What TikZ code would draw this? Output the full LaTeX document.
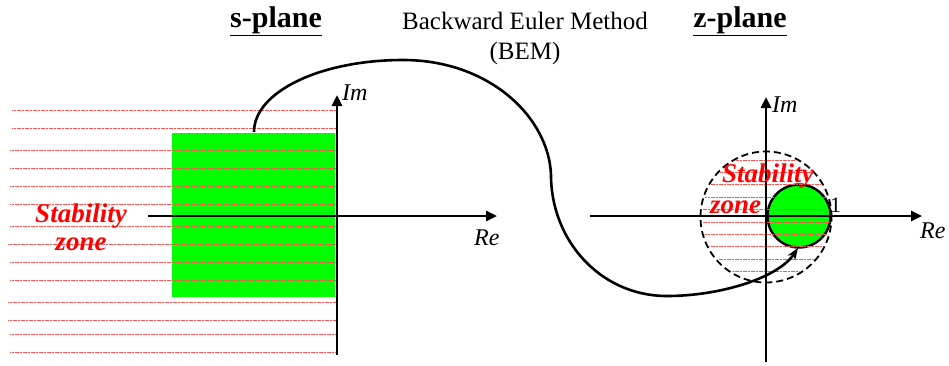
\documentclass[tikz,border=0pt]{standalone}
\usepackage{fontspec}
\setmainfont{Liberation Serif}
\usetikzlibrary{arrows.meta}
\definecolor{brightgreen}{RGB}{0,255,0}
\definecolor{hatchred}{RGB}{255,80,80}
\tikzset{
  axis/.style={line width=2.6pt,-{Triangle[length=11pt,width=10pt]}},
  hatch/.style={hatchred,line width=0.8pt,dash pattern=on 1.2pt off 0.4pt},
  stab/.style={text=red,font=\fontsize{27}{30}\selectfont\bfseries\itshape,inner sep=0pt,anchor=base},
  axlabel/.style={font=\fontsize{24}{28}\selectfont\itshape,inner sep=0pt,anchor=base west},
  title/.style={font=\fontsize{30}{34}\selectfont\bfseries,inner sep=0pt,anchor=base},
  bemtext/.style={font=\fontsize{25}{28}\selectfont,inner sep=0pt,anchor=base},
  mapcurve/.style={line width=2.6pt,-{Stealth[length=12pt,width=9pt]}}
}
\begin{document}
\begin{tikzpicture}[x=1pt,y=-1pt]
\useasboundingbox (0,0) rectangle (949,365);

% ---------- s-plane ----------
\node[fill=brightgreen,draw=none,inner sep=0pt,minimum width=163pt,minimum height=164pt,anchor=north west] (srect) at (172,133) {};
\foreach \yy/\xs in {110/12,128/12,150/10,168/10,186/10,204/10,226/10,244/8,262/10,280/10,302/8,320/8,334/10,352/10}{
  \draw[hatch] (\xs,\yy) -- (336,\yy);
}
\coordinate (sxa) at (148,216);
\coordinate (sxb) at (497,216);
\coordinate (sya) at (337,355);
\coordinate (syb) at (337,95);
\draw[axis] (sxa) -- (sxb);
\draw[axis] (sya) -- (syb);
\node[axlabel] (sim) at (342,100) {Im};
\node[axlabel] (sre) at (474,245) {Re};
\node[stab] (sstab) at (81,222) {Stability};
\node[stab] (szone) at (81,250) {zone};

% ---------- z-plane ----------
\node[circle,draw,dashed,dash pattern=on 7pt off 4pt,line width=1.8pt,minimum size=131pt,inner sep=0pt] (zdash) at (766,217) {};
\node[circle,draw,fill=brightgreen,line width=2.4pt,minimum size=63pt,inner sep=0pt] (zc) at (799,216) {};
\begin{scope}
  \clip (766,217) circle (64);
  \foreach \k in {0,...,9}{
    \draw[hatch] (690,160+12.4*\k) -- (840,160+12.4*\k);
  }
\end{scope}
\coordinate (zxa) at (590,216);
\coordinate (zxb) at (922,216);
\coordinate (zya) at (766,362);
\coordinate (zyb) at (766,97);
\draw[axis] (zxa) -- (zxb);
\draw[axis] (zya) -- (zyb);
\node[axlabel] (zim) at (772,112) {Im};
\node[axlabel] (zre) at (920,238) {Re};
\node[font=\fontsize{22}{26}\selectfont,inner sep=0pt,anchor=base west] (one) at (830,212) {1};
\node[stab,anchor=base west] (zstab) at (722,182) {Stability};
\node[stab,anchor=base west] (zzone) at (710,213) {zone};

% ---------- titles ----------
\node[title] (stitle) at (276,27) {\underline{s-plane}};
\node[title] (ztitle) at (740,27) {\underline{z-plane}};
\node[bemtext] (bem1) at (525,29) {Backward Euler Method};
\node[bemtext] (bem2) at (525,59) {(BEM)};

% ---------- mapping curve ----------
\coordinate (cstart) at (254,132);
\coordinate (cend) at (798,248);
\draw[mapcurve] (cstart) .. controls (254,92) and (320,60) .. (403,60)
  .. controls (490,60) and (549,118) .. (551,175)
  .. controls (551,240) and (600,296) .. (667,296)
  .. controls (720,296) and (778,278) .. (cend);
\end{tikzpicture}
\end{document}
